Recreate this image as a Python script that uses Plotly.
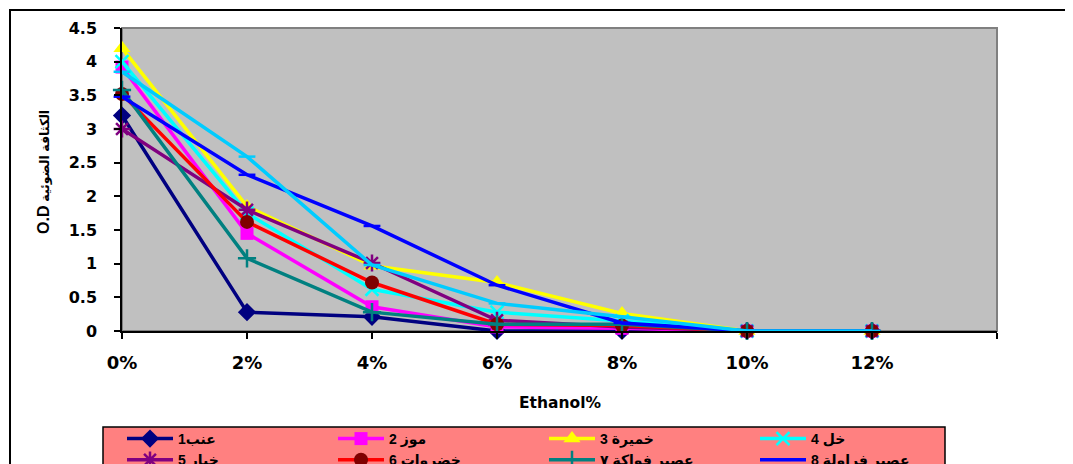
import plotly.graph_objects as go

# ---- data ----
x_labels = ["0%", "2%", "4%", "6%", "8%", "10%", "12%"]
names = ["عنب1", "موز 2", "خميرة 3", "خل 4", "خيار 5", "خضروات 6",
         "عصير فواكة ٧", "عصير فراولة 8", ""]
s1 = [3.2, 0.28, 0.21, 0.0, 0.0, 0.0, 0.0]
s2 = [3.92, 1.45, 0.36, 0.06, 0.04, 0.0, 0.0]
s3 = [4.2, 1.85, 0.97, 0.72, 0.26, 0.0, 0.0]
s4 = [4.0, 1.75, 0.62, 0.28, 0.15, 0.0, 0.0]
s5 = [3.0, 1.8, 1.01, 0.16, 0.06, 0.0, 0.0]
s6 = [3.52, 1.62, 0.72, 0.1, 0.08, 0.0, 0.0]
s7 = [3.58, 1.08, 0.28, 0.1, 0.1, 0.0, 0.0]
s8 = [3.48, 2.32, 1.56, 0.68, 0.12, 0.0, 0.0]
s9 = [3.85, 2.59, 0.98, 0.41, 0.21, 0.0, 0.0]
series = [s1, s2, s3, s4, s5, s6, s7, s8, s9]

# ---- styles ----
line_colors = ["#000080", "#FF00FF", "#FFFF00", "#00FFFF", "#800080",
               "#FF0000", "#008080", "#0000FF", "#00CCFF"]
marker_colors = ["#000080", "#FF00FF", "#FFFF00", "#00FFFF", "#800080",
                 "#800000", "#008080", "#0000FF", "#00CCFF"]
symbols = ["diamond", "square", "triangle-up", "x-thin", "asterisk",
           "circle", "cross-thin", "line-ew", "line-ew"]
sizes = [14, 13, 15, 13, 14, 14, 13, 12, 12]

FONT = "Liberation Sans, Arial, DejaVu Sans, sans-serif"
WIDE = "DejaVu Sans, Liberation Sans, sans-serif"
xpos = list(range(len(x_labels)))

fig = go.Figure()
for i, ys in enumerate(series):
    thin = symbols[i] in ("x-thin", "asterisk", "cross-thin", "line-ew")
    fig.add_trace(go.Scatter(
        x=xpos, y=ys, mode="lines+markers", name=names[i],
        showlegend=(i < 8), cliponaxis=False,
        line=dict(color=line_colors[i], width=3.5),
        marker=dict(symbol=symbols[i], size=sizes[i], color=marker_colors[i],
                    line=dict(color=marker_colors[i], width=2.5 if thin else 0)),
    ))

# page body adds an 8px offset; figure is sized / placed to compensate
OFF = 8
W, H = 1073 - OFF, 464 - OFF
SL, SR, ST, SB = 122, 997, 28, 331          # plot area in screen pixels
pw, ph = SR - SL, SB - ST


def px(X):
    return (X - SL) / pw


def py(Y):
    return (SB - Y) / ph


fig.update_layout(
    width=W, height=H,
    margin=dict(l=SL - OFF, r=W - (SR - OFF), t=ST - OFF, b=H - (SB - OFF),
                pad=0, autoexpand=False),
    paper_bgcolor="white", plot_bgcolor="#C0C0C0",
    font=dict(family=FONT, size=15, color="black", weight="bold"),
    showlegend=True,
    legend=dict(
        orientation="h", x=px(122), y=py(423), xanchor="left", yanchor="top",
        bgcolor="rgba(0,0,0,0)", borderwidth=0,
        font=dict(family=FONT, size=14, color="black", weight="bold"),
        itemwidth=46, entrywidth=150, entrywidthmode="pixels",
        traceorder="normal",
    ),
    xaxis=dict(
        range=[0, 7], tickmode="array", tickvals=list(range(8)),
        ticktext=x_labels + [""], showgrid=False, zeroline=False,
        showline=True, linecolor="black", linewidth=1.5,
        ticks="outside", ticklen=6, tickcolor="black", tickwidth=1.5,
        ticklabelstandoff=9,
        tickfont=dict(family=WIDE, size=18, weight="bold"),
    ),
    yaxis=dict(
        range=[0, 4.5], dtick=0.5, showgrid=False, zeroline=False,
        showline=True, linecolor="black", linewidth=1.5,
        ticks="outside", ticklen=6, tickcolor="black", tickwidth=1.5,
        ticklabelstandoff=14,
        tickfont=dict(family=WIDE, size=16, weight="bold"),
    ),
    shapes=[
        # outer chart frame
        dict(type="rect", xref="paper", yref="paper",
             x0=px(10), x1=px(1090), y0=py(490), y1=py(10),
             line=dict(color="black", width=2), fillcolor="rgba(0,0,0,0)",
             layer="below"),
        # plot-area border (top / right)
        dict(type="rect", xref="paper", yref="paper", x0=0, x1=1, y0=0, y1=1,
             line=dict(color="#808080", width=2), fillcolor="rgba(0,0,0,0)",
             layer="below"),
        # legend box
        dict(type="rect", xref="paper", yref="paper",
             x0=px(103), x1=px(945), y0=py(480), y1=py(427),
             line=dict(color="black", width=1.5), fillcolor="#FF8080",
             layer="below"),
    ],
    annotations=[
        dict(text="Ethanol%", xref="paper", yref="paper", x=0.5, y=py(403),
             showarrow=False, xanchor="center", yanchor="middle",
             font=dict(family=WIDE, size=15.5, weight="bold")),
        dict(text="<span style='font-size:16px'>O.D</span> "
                  "<span style='font-size:12.5px'>الكثافة الضوئية</span>",
             xref="paper", yref="paper",
             x=px(43), y=py(172), textangle=-90, showarrow=False,
             xanchor="center", yanchor="middle",
             font=dict(family=FONT, size=14, weight="bold")),
    ],
)

fig.write_html("out.html")
